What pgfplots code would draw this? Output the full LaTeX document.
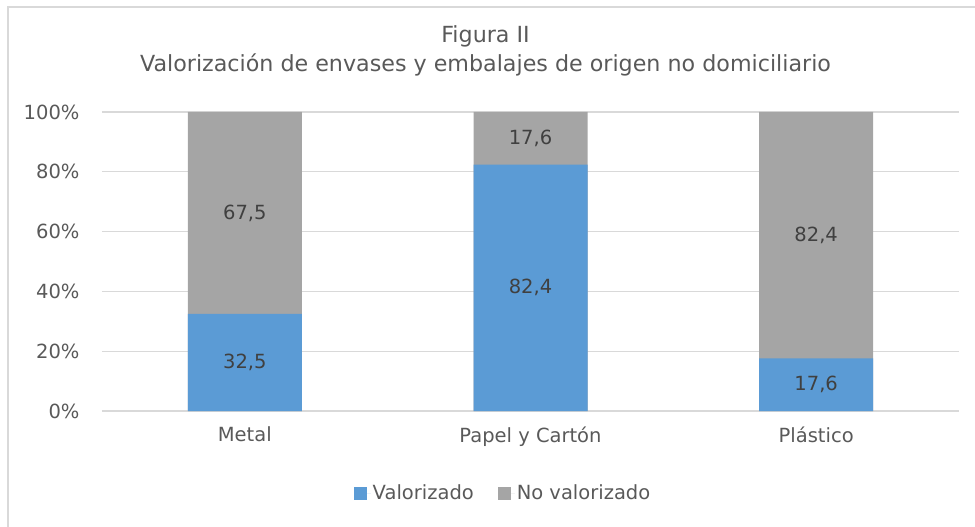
\documentclass[border=0pt]{standalone}
\usepackage{pgfplots}
\pgfplotsset{compat=1.18}
\usepackage{fontspec}
\setmainfont{DejaVu Sans}
\definecolor{cblue}{HTML}{5B9BD5}
\definecolor{cgray}{HTML}{A5A5A5}
\definecolor{ctext}{HTML}{595959}
\definecolor{clab}{HTML}{404040}
\definecolor{cgrid}{HTML}{D9D9D9}
\begin{document}
\begin{tikzpicture}[x=1bp,y=1bp]
\useasboundingbox (-102bp,-116bp) rectangle (873bp,411bp);
\draw[cgrid,line width=1.2bp] (-94bp,-116bp) -- (-94bp,404bp) -- (873bp,404bp);
\begin{axis}[
  at={(0,0)}, anchor=south west,
  scale only axis, width=857bp, height=299bp,
  xmin=-0.5, xmax=2.5, ymin=0, ymax=100,
  xtick={0,1,2}, xticklabels={Metal,Papel y Cartón,Plástico},
  ytick={0,20,40,60,80,100},
  yticklabels={0\%,20\%,40\%,60\%,80\%,100\%},
  axis line style={draw=none},
  major tick length=0pt,
  ymajorgrids, grid style={cgrid,line width=1.4bp},
  tick label style={font=\fontsize{19.5bp}{23bp}\selectfont, text=ctext},
  yticklabel style={xshift=-19bp},
  xticklabel style={yshift=-12bp},
  legend style={at={(401bp,-82bp)}, anchor=center, draw=none, fill=none,
    legend columns=2, font=\fontsize{19.5bp}{23bp}\selectfont, text=ctext,
    /tikz/every even column/.append style={column sep=22bp}},
  legend image code/.code={\fill[#1] (0bp,-6.5bp) rectangle (13bp,6.5bp); \path (13bp,0bp) -- (17bp,0bp);},
  legend cell align=left,
  clip=false,
]
\addplot[ybar, bar width=114bp, bar shift=0pt, fill=cgray, draw=none, forget plot]
  coordinates {(0,100) (1,100) (2,100)};
\addplot[ybar, bar width=114bp, bar shift=0pt, fill=cblue, draw=none, forget plot]
  coordinates {(0,32.5) (1,82.4) (2,17.6)};
\addplot[only marks, mark=none, nodes near coords, point meta=explicit symbolic,
  every node near coord/.style={anchor=center, text=clab, font=\fontsize{19.5bp}{23bp}\selectfont}, forget plot]
  coordinates {(0,16.25) [32,5] (1,41.2) [82,4] (2,8.8) [17,6]
               (0,66.25) [67,5] (1,91.2) [17,6] (2,58.8) [82,4]};
\addlegendimage{fill=cblue, draw=none}
\addlegendentry{Valorizado}
\addlegendimage{fill=cgray, draw=none}
\addlegendentry{No valorizado}
\node[text=ctext, font=\fontsize{22.2bp}{26bp}\selectfont] at (383.5bp,375bp) {Figura II};
\node[text=ctext, font=\fontsize{22.2bp}{26bp}\selectfont] at (383.5bp,346bp) {Valorización de envases y embalajes de origen no domiciliario};
\end{axis}
\end{tikzpicture}
\end{document}
